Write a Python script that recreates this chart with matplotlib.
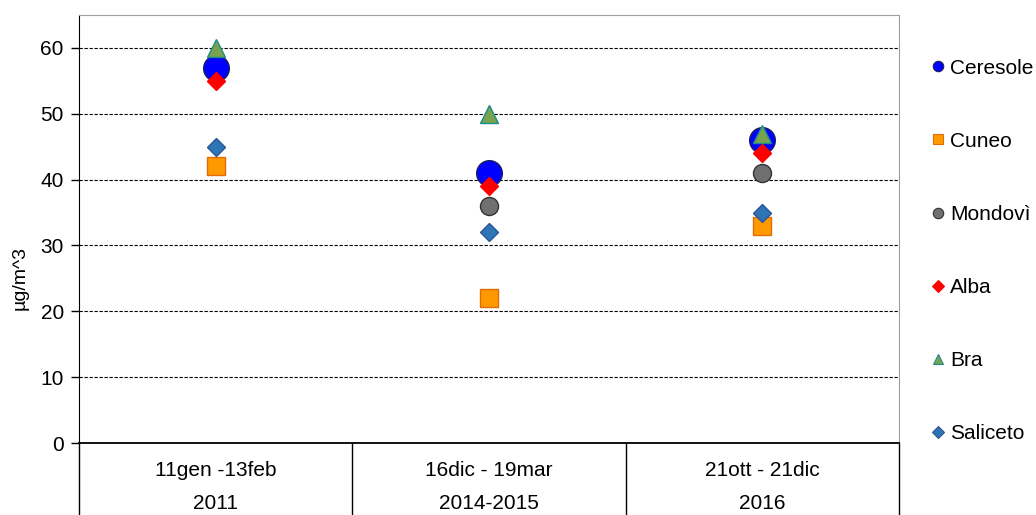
import matplotlib
matplotlib.use("Agg")
import matplotlib.pyplot as plt
from matplotlib.lines import Line2D
import numpy as np

# periods and data
periods = ["11gen -13feb", "16dic - 19mar", "21ott - 21dic"]
years = ["2011", "2014-2015", "2016"]

ceresole = [57, 41, 46]
cuneo = [42, 22, 33]
mondovi = [np.nan, 36, 41]
alba = [55, 39, 44]
bra = [60, 50, 47]
saliceto = [45, 32, 35]

series = [
    # name, values, marker, size, face, edge
    ("Ceresole", ceresole, "o", 18.5, "#0000FF", "#1F1F5F"),
    ("Cuneo", cuneo, "s", 13.5, "#FF9900", "#E26B0A"),
    ("Mondovì", mondovi, "o", 13, "#707070", "#333333"),
    ("Alba", alba, "D", 9.5, "#FF0000", "#FF0000"),
    ("Bra", bra, "^", 12.5, "#77A34F", "#1F8C8C"),
    ("Saliceto", saliceto, "D", 9.5, "#2E75B6", "#2F5597"),
]

plt.rcParams["font.family"] = ["Liberation Sans", "DejaVu Sans"]
fs = 15

fig = plt.figure(figsize=(10.36, 5.15), dpi=100)
ax = fig.add_axes([0.0763, 0.1398, 0.7915, 0.8311])

x = np.arange(1, len(periods) + 1)
handles = []
for name, vals, mk, ms, fc, ec in series:
    ax.plot(x, vals, linestyle="none", marker=mk, markersize=ms,
            markerfacecolor=fc, markeredgecolor=ec, markeredgewidth=1.0, zorder=3)
    handles.append(Line2D([], [], linestyle="none", marker=mk,
                          markersize=7.5 if mk != "D" else 6.5,
                          markerfacecolor=fc, markeredgecolor=ec, markeredgewidth=0.8))

ax.set_xlim(0.5, 3.5)
ax.set_ylim(0, 65)
ax.set_yticks(range(0, 61, 10))
ax.tick_params(axis="y", labelsize=fs, length=6, direction="out", width=1, pad=5)
ax.set_xticks([])
ax.yaxis.grid(True, linestyle=(0, (3, 1.5)), color="black", linewidth=0.8)
ax.set_axisbelow(True)
ax.set_ylabel("µg/m^3", fontsize=14)
ax.yaxis.set_label_coords(-0.062, 0.385)

for side in ["top", "right"]:
    ax.spines[side].set_color("#A0A0A0")
ax.spines["left"].set_color("black")
ax.spines["bottom"].set_color("black")
ax.spines["bottom"].set_linewidth(1.3)

# category table under the axis
trans = ax.get_xaxis_transform()
for xb in [0.5, 1.5, 2.5, 3.5]:
    ax.plot([xb, xb], [0, -0.2], transform=trans, color="black",
            linewidth=1.0, clip_on=False)
for xi, p, yr in zip(x, periods, years):
    ax.text(xi, -0.064, p, transform=trans, ha="center", va="center", fontsize=fs)
    ax.text(xi, -0.142, yr, transform=trans, ha="center", va="center", fontsize=fs)

fig.legend(handles, [s[0] for s in series], loc="center left",
           bbox_to_anchor=(0.888, 0.5126), frameon=False, fontsize=fs,
           labelspacing=2.6, handletextpad=0.15, handlelength=0.9,
           borderaxespad=0)

fig.savefig("out.png", dpi=100)
